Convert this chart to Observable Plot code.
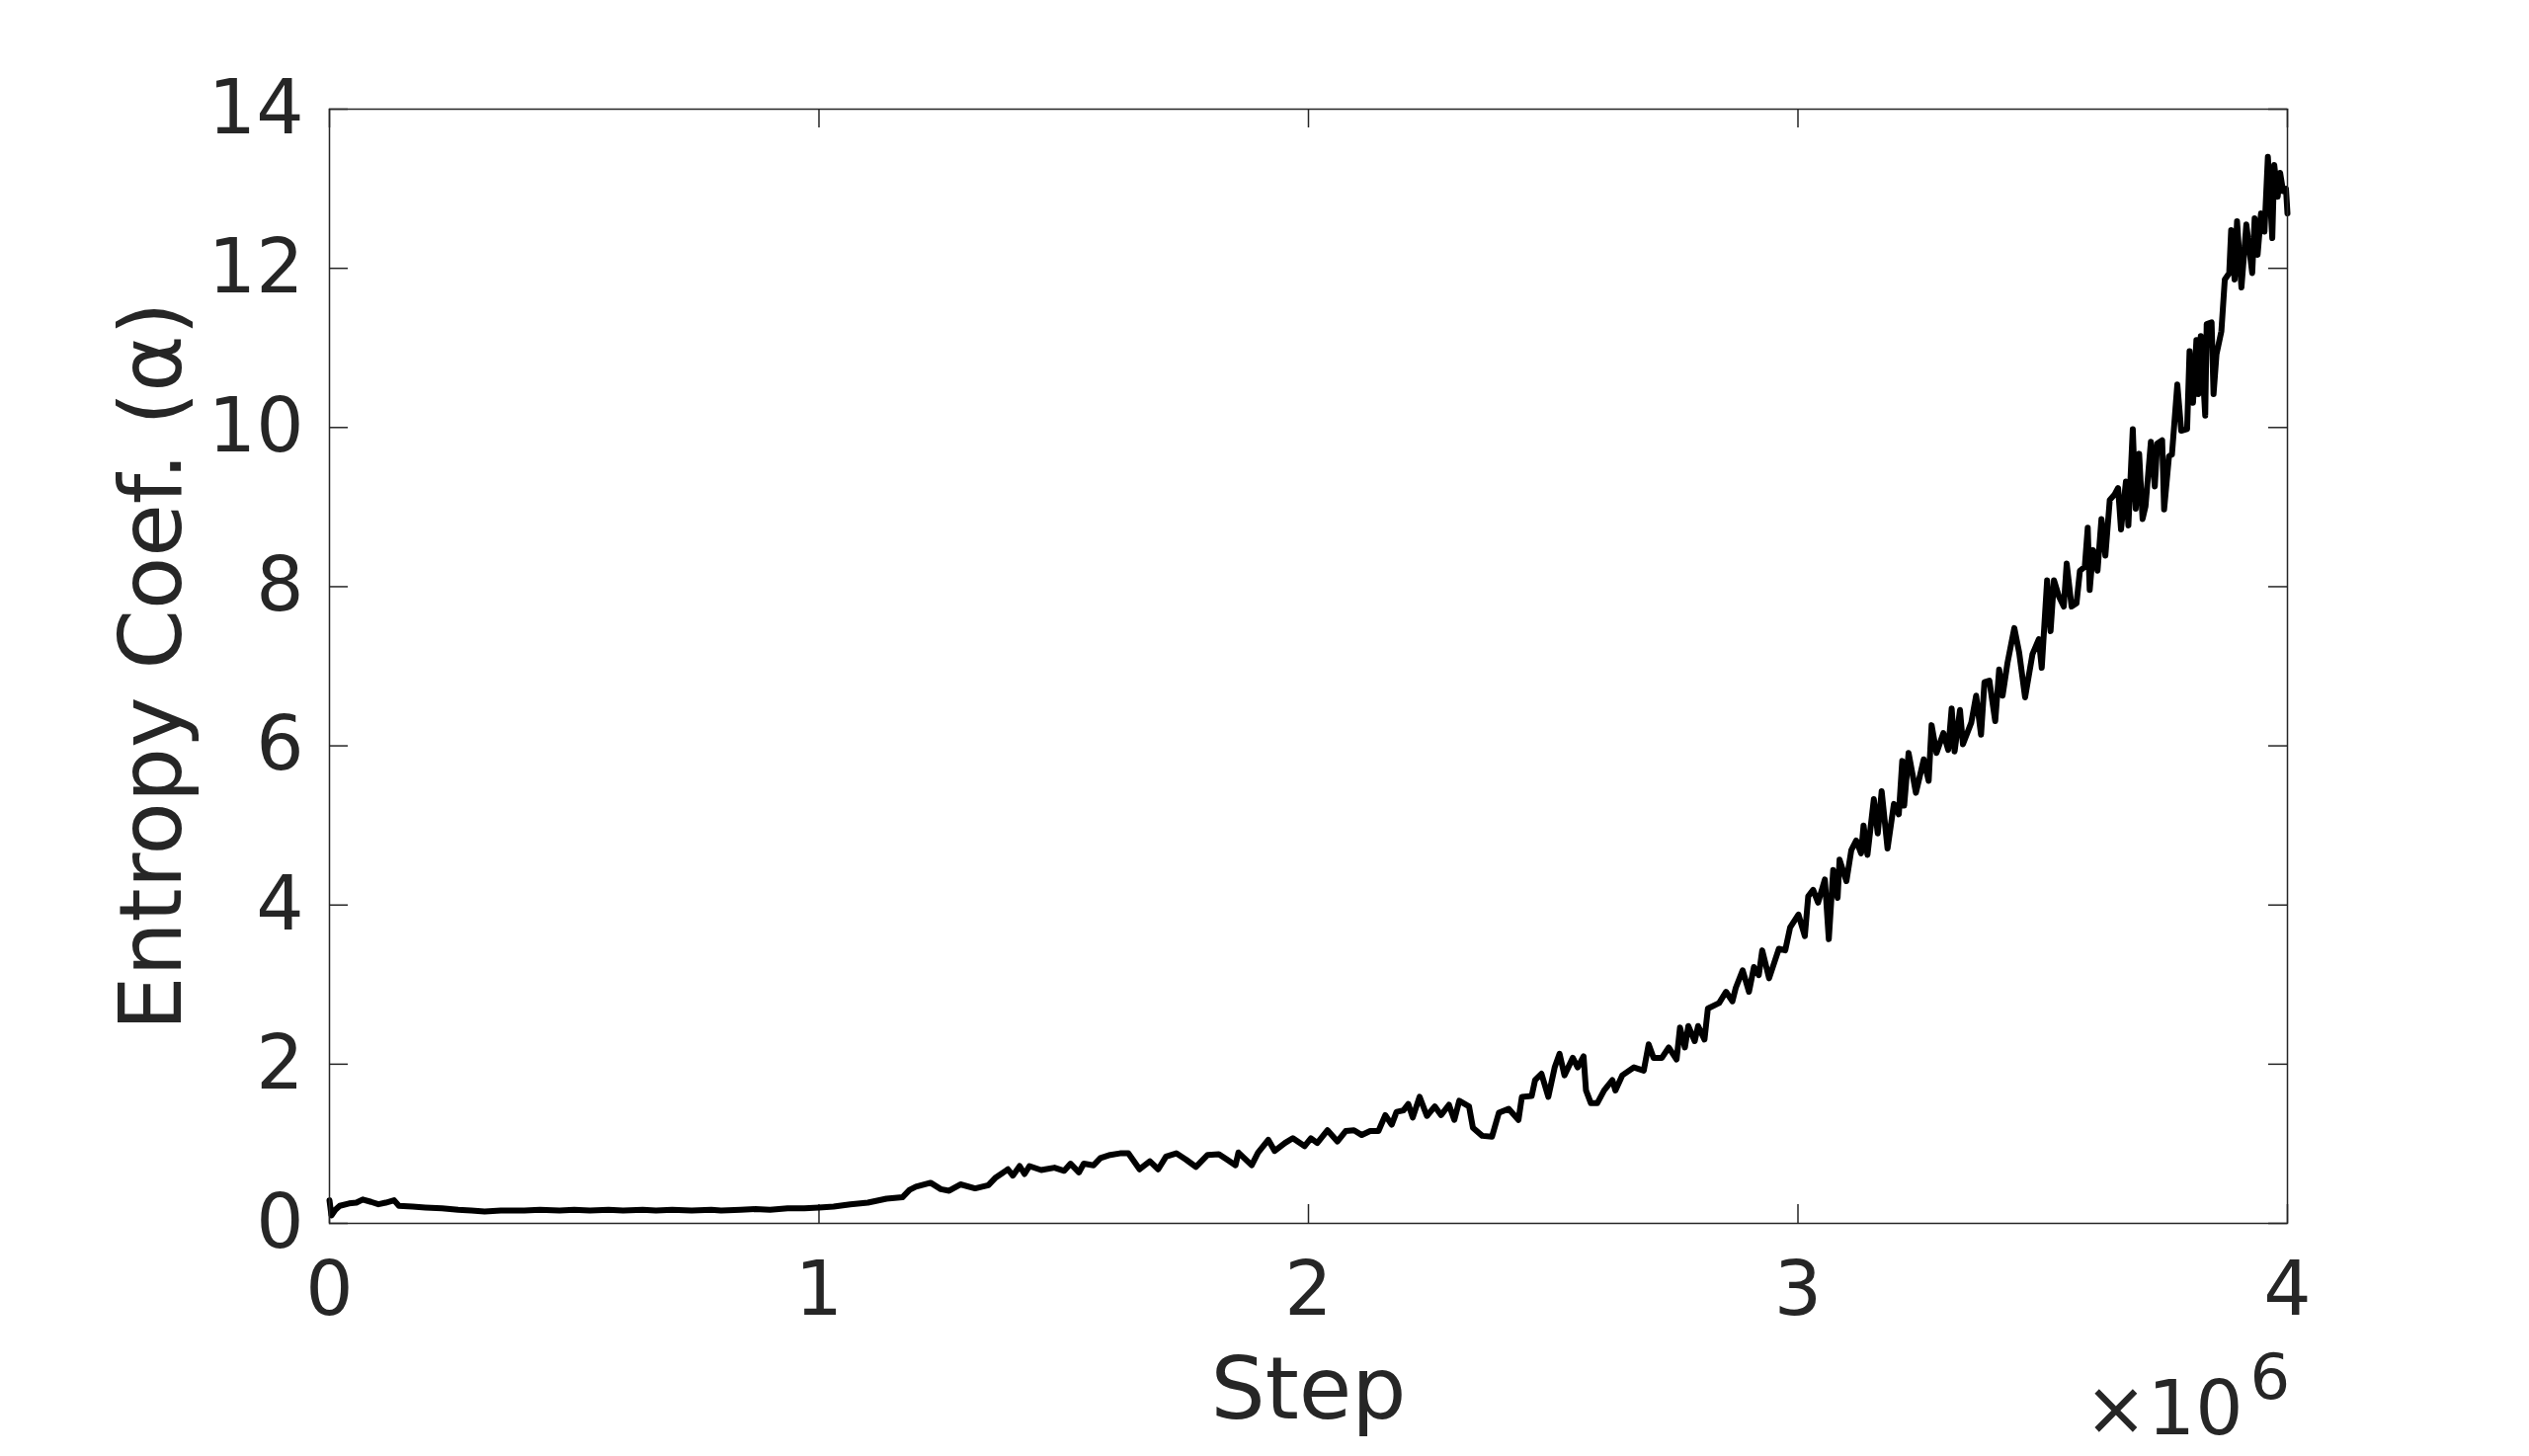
<!DOCTYPE html>
<html>
<head>
<meta charset="utf-8">
<script src="https://cdn.jsdelivr.net/npm/d3@7"></script>
<script src="https://cdn.jsdelivr.net/npm/@observablehq/plot@0.6"></script>
<style>
  html, body { margin: 0; padding: 0; background: #ffffff; }
  #chart { width: 2560px; height: 1474px; }
</style>
</head>
<body>
<div id="chart"></div>
<script>
// Training step (in units of 10^6)
const stepMillions = [
  0.000, 0.004, 0.012, 0.021, 0.040, 0.055, 0.068, 0.085, 0.100, 0.115,
  0.132, 0.142, 0.170, 0.196, 0.230, 0.263, 0.290, 0.317, 0.350, 0.398,
  0.430, 0.470, 0.500, 0.532, 0.570, 0.600, 0.640, 0.667, 0.700, 0.740,
  0.780, 0.800, 0.840, 0.870, 0.900, 0.936, 0.970, 1.000, 1.030,
  1.064, 1.100, 1.138, 1.171, 1.185, 1.198, 1.228, 1.249, 1.266, 1.289,
  1.319, 1.346, 1.360, 1.386, 1.396, 1.410, 1.420, 1.430, 1.454, 1.481,
  1.501, 1.514, 1.531, 1.541, 1.561, 1.575, 1.595, 1.615, 1.632, 1.655,
  1.676, 1.693, 1.709, 1.730, 1.750, 1.770, 1.794, 1.817, 1.834, 1.851,
  1.857, 1.884, 1.897, 1.918, 1.931, 1.952, 1.968, 1.992,
  2.005, 2.018, 2.039, 2.059, 2.076, 2.093, 2.109, 2.126, 2.143, 2.157,
  2.170, 2.180, 2.194, 2.204, 2.213, 2.227, 2.242, 2.258, 2.271, 2.287,
  2.298, 2.308, 2.328, 2.336, 2.355, 2.375, 2.389, 2.409, 2.429, 2.436,
  2.456, 2.463, 2.476, 2.490, 2.503, 2.513, 2.523, 2.540, 2.550, 2.562,
  2.567, 2.577, 2.590, 2.604, 2.621, 2.627, 2.641, 2.665, 2.685, 2.695,
  2.705, 2.722, 2.736, 2.752, 2.759, 2.769, 2.776, 2.789, 2.796, 2.809,
  2.816, 2.839, 2.853, 2.866, 2.873, 2.887, 2.900, 2.910, 2.920, 2.927,
  2.941, 2.961, 2.974, 2.984, 3.001, 3.014, 3.021, 3.031, 3.041,
  3.055, 3.063, 3.072, 3.081, 3.085, 3.099, 3.109, 3.119, 3.129, 3.134,
  3.142, 3.155, 3.163, 3.171, 3.183, 3.196, 3.206, 3.213, 3.217, 3.226,
  3.241, 3.257, 3.267, 3.273, 3.283, 3.297, 3.307, 3.314, 3.320, 3.331,
  3.337, 3.354, 3.364, 3.374, 3.381, 3.391, 3.403, 3.411, 3.418, 3.428,
  3.442, 3.452, 3.464, 3.479, 3.492, 3.498, 3.509, 3.516, 3.523, 3.533,
  3.543, 3.549, 3.559, 3.569, 3.576, 3.586, 3.592, 3.596, 3.603, 3.612,
  3.620, 3.628, 3.637, 3.647, 3.654, 3.660, 3.670, 3.675, 3.684, 3.690,
  3.697, 3.704, 3.710, 3.721, 3.729, 3.734, 3.744, 3.748, 3.758, 3.764,
  3.775, 3.783, 3.795, 3.800, 3.807, 3.814, 3.818, 3.823, 3.832, 3.835,
  3.845, 3.849, 3.855, 3.865, 3.872, 3.881, 3.885, 3.892, 3.897, 3.906,
  3.916, 3.928, 3.933, 3.939, 3.946, 3.953, 3.960, 3.969, 3.973, 3.980,
  3.985, 3.991, 3.997, 4.000
];

// Entropy coefficient alpha
const alphaValues = [
  0.29, 0.10, 0.17, 0.22, 0.25, 0.26, 0.30, 0.27, 0.24, 0.26,
  0.29, 0.22, 0.21, 0.20, 0.19, 0.17, 0.16, 0.15, 0.16, 0.16,
  0.17, 0.16, 0.17, 0.16, 0.17, 0.16, 0.17, 0.16, 0.17, 0.16,
  0.17, 0.16, 0.17, 0.18, 0.17, 0.19, 0.19, 0.20, 0.21,
  0.24, 0.26, 0.31, 0.33, 0.42, 0.46, 0.51, 0.43, 0.41, 0.49,
  0.44, 0.48, 0.57, 0.68, 0.60, 0.72, 0.62, 0.72, 0.67, 0.70,
  0.66, 0.75, 0.64, 0.75, 0.73, 0.82, 0.86, 0.88, 0.88, 0.68,
  0.78, 0.68, 0.84, 0.88, 0.80, 0.71, 0.86, 0.87, 0.80, 0.73,
  0.89, 0.73, 0.89, 1.05, 0.91, 1.01, 1.07, 0.97,
  1.07, 1.01, 1.17, 1.03, 1.16, 1.17, 1.11, 1.16, 1.16, 1.36,
  1.24, 1.40, 1.42, 1.50, 1.33, 1.59, 1.35, 1.47, 1.36, 1.49,
  1.30, 1.54, 1.47, 1.20, 1.10, 1.09, 1.39, 1.44, 1.30, 1.59,
  1.60, 1.80, 1.88, 1.59, 1.96, 2.13, 1.86, 2.08, 1.96, 2.10,
  1.67, 1.51, 1.51, 1.67, 1.80, 1.67, 1.86, 1.96, 1.92, 2.25,
  2.08, 2.08, 2.21, 2.06, 2.46, 2.21, 2.48, 2.29, 2.48, 2.31,
  2.70, 2.77, 2.91, 2.79, 2.96, 3.18, 2.91, 3.22, 3.12, 3.43,
  3.08, 3.45, 3.43, 3.72, 3.88, 3.61, 4.11, 4.19, 4.03,
  4.32, 3.57, 4.44, 4.09, 4.57, 4.30, 4.69, 4.81, 4.65, 5.00,
  4.63, 5.33, 4.90, 5.43, 4.71, 5.27, 5.14, 5.81, 5.25, 5.91,
  5.41, 5.83, 5.56, 6.26, 5.91, 6.16, 5.95, 6.47, 5.93, 6.45,
  6.02, 6.29, 6.63, 6.14, 6.80, 6.82, 6.31, 6.96, 6.63, 7.04,
  7.48, 7.17, 6.61, 7.15, 7.34, 6.98, 8.08, 7.44, 8.08, 7.88,
  7.75, 8.29, 7.75, 7.79, 8.20, 8.25, 8.74, 7.96, 8.46, 8.20,
  8.85, 8.39, 9.09, 9.16, 9.24, 8.72, 9.32, 8.77, 9.98, 8.98,
  9.67, 8.85, 9.01, 9.82, 9.26, 9.80, 9.84, 8.97, 9.64, 9.66,
  10.54, 9.96, 9.98, 10.96, 10.31, 11.10, 10.42, 11.15, 10.15, 11.30,
  11.32, 10.42, 10.92, 11.21, 11.86, 11.94, 12.48, 11.86, 12.59, 11.76,
  12.55, 11.94, 12.63, 12.17, 12.69, 12.46, 13.40, 12.38, 13.30, 12.90,
  13.20, 12.97, 13.00, 12.69
];

const xTicks = [0, 1, 2, 3, 4];
const yTicks = [0, 2, 4, 6, 8, 10, 12, 14];
const xLabel = "Step";
const yLabel = "Entropy Coef. (α)";
const exponentBase = "×10";
const exponentPower = "6";

const data = stepMillions.map((s, i) => ({step: s, alpha: alphaValues[i]}));

const W = 2560, H = 1474;
const mL = 333, mR = 245, mT = 110, mB = 236;
const frameW = W - mL - mR, frameH = H - mT - mB;
const tickLen = 19;
const ink = "#262626";
const font = "DejaVu Sans, sans-serif";

const chart = Plot.plot({
  width: W,
  height: H,
  marginLeft: mL,
  marginRight: mR,
  marginTop: mT,
  marginBottom: mB,
  style: {fontFamily: font, fontSize: "76px", color: ink, background: "#ffffff", overflow: "visible"},
  x: {domain: [0, 4]},
  y: {domain: [0, 14]},
  marks: [
    // inward tick marks on all four sides
    Plot.ruleY(yTicks, {y: d => d, stroke: ink, strokeWidth: 1.5, insetRight: frameW - tickLen}),
    Plot.ruleY(yTicks, {y: d => d, stroke: ink, strokeWidth: 1.5, insetLeft: frameW - tickLen}),
    Plot.ruleX(xTicks, {x: d => d, stroke: ink, strokeWidth: 1.5, insetTop: frameH - tickLen}),
    Plot.ruleX(xTicks, {x: d => d, stroke: ink, strokeWidth: 1.5, insetBottom: frameH - tickLen}),
    Plot.line(data, {x: "step", y: "alpha", stroke: "#000000", strokeWidth: 6, strokeLinejoin: "round", strokeLinecap: "round"}),
    Plot.frame({stroke: ink, strokeWidth: 1.5}),
    Plot.axisY(yTicks, {anchor: "left", tickSize: 0, tickPadding: 26, label: null, fill: ink, fontSize: 76, tickFormat: d => String(d)}),
    Plot.axisX(xTicks, {anchor: "bottom", tickSize: 0, tickPadding: 39, label: null, fill: ink, fontSize: 76, tickFormat: d => String(d)}),
    Plot.text([yLabel], {frameAnchor: "left", textAnchor: "middle", lineAnchor: "middle", dx: -178, rotate: -90, fontSize: 87, fill: ink, text: d => d}),
    Plot.text([xLabel], {frameAnchor: "bottom", textAnchor: "middle", lineAnchor: "middle", dy: 170, fontSize: 87, fill: ink, text: d => d}),
    Plot.text([exponentBase], {frameAnchor: "bottom-right", textAnchor: "end", lineAnchor: "middle", dx: -45, dy: 189, fontSize: 76, fill: ink, text: d => d}),
    Plot.text([exponentPower], {frameAnchor: "bottom-right", textAnchor: "start", lineAnchor: "middle", dx: -38, dy: 157, fontSize: 64, fill: ink, text: d => d})
  ]
});

document.getElementById("chart").appendChild(chart);
</script>
</body>
</html>
